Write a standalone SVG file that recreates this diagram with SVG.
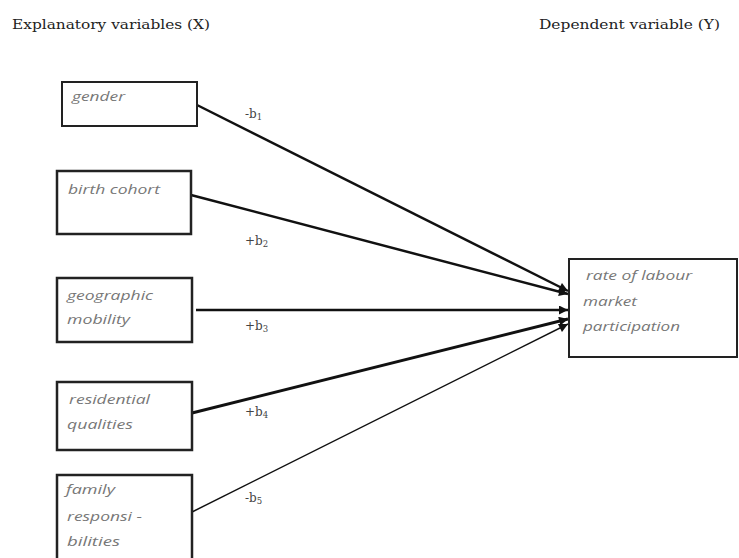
<svg xmlns="http://www.w3.org/2000/svg" width="739" height="558" viewBox="0 0 739 558">
<style>
.hdr{font-family:"DejaVu Serif","Liberation Serif",serif;font-size:12px;fill:#222}
.box{fill:#fff;stroke:#222}
.nt{font-family:"Open Sans","DejaVu Sans",sans-serif;font-style:italic;font-size:12.5px;fill:#777}
.lbl{font-family:"DejaVu Serif","Liberation Serif",serif;font-size:12px;fill:#444}
.sub{font-size:8.5px}
.ln{stroke:#111;fill:none}
</style>
<defs>
<marker id="ah" viewBox="0 0 10 10" refX="10" refY="5" markerWidth="11" markerHeight="9" markerUnits="userSpaceOnUse" orient="auto">
<path d="M0,0 L10,5 L0,10 z" fill="#111"/>
</marker>
</defs>
<rect width="739" height="558" fill="#fff"/>
<text class="hdr" x="12" y="29" textLength="198" lengthAdjust="spacingAndGlyphs">Explanatory variables (X)</text>
<text class="hdr" x="539" y="29" textLength="181" lengthAdjust="spacingAndGlyphs">Dependent variable (Y)</text>

<g id="connectors">
<line class="ln" x1="197" y1="105" x2="568" y2="291" stroke-width="2.5" marker-end="url(#ah)"/>
<line class="ln" x1="191" y1="195" x2="568" y2="294" stroke-width="2.5" marker-end="url(#ah)"/>
<line class="ln" x1="196" y1="310" x2="568" y2="310" stroke-width="2.5" marker-end="url(#ah)"/>
<line class="ln" x1="192" y1="413" x2="568" y2="319" stroke-width="3" marker-end="url(#ah)"/>
<line class="ln" x1="192" y1="512" x2="568" y2="324" stroke-width="1.5" marker-end="url(#ah)"/>
<text class="lbl" x="245" y="118">-b<tspan class="sub" dy="2">1</tspan></text>
<text class="lbl" x="245" y="245">+b<tspan class="sub" dy="2">2</tspan></text>
<text class="lbl" x="245" y="330">+b<tspan class="sub" dy="2">3</tspan></text>
<text class="lbl" x="245" y="416">+b<tspan class="sub" dy="2">4</tspan></text>
<text class="lbl" x="245" y="502">-b<tspan class="sub" dy="2">5</tspan></text>
</g>

<g id="gender">
<rect class="box" x="62" y="82" width="135" height="44" stroke-width="2"/>
<text class="nt" x="72" y="101" textLength="53" lengthAdjust="spacingAndGlyphs">gender</text>
</g>
<g id="birth-cohort">
<rect class="box" x="57" y="171" width="134" height="63" stroke-width="2.5"/>
<text class="nt" x="68" y="194" textLength="92" lengthAdjust="spacingAndGlyphs">birth cohort</text>
</g>
<g id="geographic-mobility">
<rect class="box" x="57" y="278" width="135" height="64" stroke-width="2.5"/>
<text class="nt" x="67" y="300" textLength="86" lengthAdjust="spacingAndGlyphs">geographic</text>
<text class="nt" x="67" y="324" textLength="63" lengthAdjust="spacingAndGlyphs">mobility</text>
</g>
<g id="residential-qualities">
<rect class="box" x="57" y="382" width="135" height="68" stroke-width="2.5"/>
<text class="nt" x="69" y="404" textLength="81" lengthAdjust="spacingAndGlyphs">residential</text>
<text class="nt" x="67" y="429" textLength="66" lengthAdjust="spacingAndGlyphs">qualities</text>
</g>
<g id="family-responsibilities">
<rect class="box" x="57" y="475" width="135" height="90" stroke-width="2.5"/>
<text class="nt" x="66" y="494" textLength="49" lengthAdjust="spacingAndGlyphs">family</text>
<text class="nt" x="67" y="521" textLength="75" lengthAdjust="spacingAndGlyphs">responsi -</text>
<text class="nt" x="67" y="546" textLength="53" lengthAdjust="spacingAndGlyphs">bilities</text>
</g>
<g id="labour-market-participation">
<rect class="box" x="569" y="259" width="168" height="98" stroke-width="2"/>
<text class="nt" x="586" y="280" textLength="106" lengthAdjust="spacingAndGlyphs">rate of labour</text>
<text class="nt" x="583" y="306" textLength="54" lengthAdjust="spacingAndGlyphs">market</text>
<text class="nt" x="583" y="331" textLength="97" lengthAdjust="spacingAndGlyphs">participation</text>
</g>
</svg>
